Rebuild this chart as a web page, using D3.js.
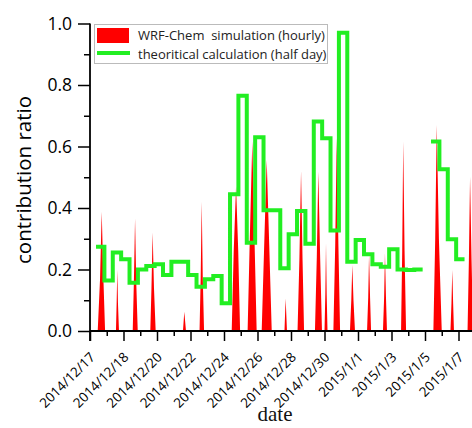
<!DOCTYPE html>
<html lang="en">

<head>
    <meta charset="UTF-8" />
    <title>Contribution ratio</title>
    <style>
        body { margin: 0; background: #fff; }
        svg { display: block; font-family: "Open Sans", sans-serif; }
        .legend text { white-space: pre; }
    </style>
</head>

<body>
    <svg id="chart"></svg>

    <script src="https://d3js.org/d3.v7.min.js"></script>
    <script>
        // x values are days since 2014/12/17 00:00
        const tickDays = [0, 2, 4, 6, 8, 10, 12, 14, 16, 18, 20, 22];
        const tickLabels = ['2014/12/17', '2014/12/18', '2014/12/20', '2014/12/22', '2014/12/24', '2014/12/26',
            '2014/12/28', '2014/12/30', '2015/1/1', '2015/1/3', '2015/1/5', '2015/1/7'];
        const yTicks = [0, 0.2, 0.4, 0.6, 0.8, 1.0];

        const simDays = [
            0.46, 0.60, 0.70, 0.80, 0.90,
            1.55, 1.59, 1.63, 1.67, 1.73,
            2.55, 2.62, 2.69, 2.76, 2.85,
            3.60, 3.67, 3.74, 3.82, 3.92,
            5.55, 5.63, 5.73,
            6.54, 6.61, 6.67, 6.73, 6.81,
            8.46, 8.58, 8.72, 8.85, 8.96,
            9.41, 9.54, 9.69, 9.82, 9.95,
            10.25, 10.40, 10.55, 10.70, 10.85,
            11.61, 11.68, 11.76,
            12.39, 12.50, 12.60, 12.69, 12.78,
            13.43, 13.54, 13.63, 13.74, 13.85,
            14.00, 14.05, 14.09, 14.13, 14.18,
            14.53, 14.64, 14.73, 14.83, 14.93,
            15.52, 15.60, 15.66, 15.73, 15.82,
            16.54, 16.61, 16.66, 16.72, 16.78,
            17.49, 17.56, 17.61, 17.67, 17.73,
            18.57, 18.64, 18.70, 18.78, 18.87,
            20.50, 20.61, 20.70, 20.83, 21.00,
            21.52, 21.58, 21.63, 21.68, 21.73,
            22.54, 22.62, 22.69, 22.78, 22.87
        ];
        const simValues = [
            0, 0.17, 0.388, 0.17, 0,
            0, 0.09, 0.198, 0.09, 0,
            0, 0.16, 0.366, 0.16, 0,
            0, 0.14, 0.32, 0.14, 0,
            0, 0.063, 0,
            0, 0.18, 0.42, 0.18, 0,
            0, 0.26, 0.47, 0.26, 0,
            0, 0.30, 0.616, 0.30, 0,
            0, 0.28, 0.556, 0.28, 0,
            0, 0.106, 0,
            0, 0.23, 0.52, 0.23, 0,
            0, 0.24, 0.518, 0.24, 0,
            0, 0.12, 0.285, 0.12, 0,
            0, 0.28, 0.627, 0.28, 0,
            0, 0.10, 0.215, 0.10, 0,
            0, 0.11, 0.25, 0.11, 0,
            0, 0.11, 0.253, 0.11, 0,
            0, 0.26, 0.616, 0.26, 0,
            0, 0.30, 0.67, 0.30, 0,
            0, 0.09, 0.198, 0.09, 0,
            0, 0.23, 0.502, 0.23, 0
        ];

        // theoritical calculation (half day), one value per 12 h period
        const calcStart = 0.36;
        const calcValues = [
            0.274, 0.164, 0.255, 0.233, 0.157, 0.200, 0.211, 0.217, 0.182, 0.225,
            0.225, 0.182, 0.144, 0.168, 0.179, 0.090, 0.445, 0.765, 0.287, 0.630,
            0.393, 0.393, 0.204, 0.315, 0.390, 0.284, 0.681, 0.627, 0.327, 0.970,
            0.225, 0.296, 0.250, 0.217, 0.209, 0.266, 0.200, 0.198, 0.200, null,
            0.616, 0.526, 0.298, 0.233
        ];

        const width = 472, height = 428;
        const svg = d3.select('#chart').attr('width', width).attr('height', height);

        const x = d3.scaleLinear().domain([0, 22.806]).range([90, 472]);
        const y = d3.scaleLinear().domain([0, 1]).range([331, 23.5]);

        const red = '#ff0000', green = '#22ee22';

        // hourly simulation as filled area
        const sim = simDays.map((d, i) => ({ t: d, v: simValues[i] }));
        svg.append('path')
            .datum(sim)
            .attr('fill', red)
            .attr('d', d3.area().x(d => x(d.t)).y0(y(0)).y1(d => y(d.v)));

        // half-day steps
        const steps = [];
        calcValues.forEach((v, k) => {
            steps.push({ t: calcStart + k * 0.5, v: v });
            steps.push({ t: calcStart + (k + 1) * 0.5, v: v });
        });
        svg.append('path')
            .datum(steps)
            .attr('fill', 'none')
            .attr('stroke', green)
            .attr('stroke-width', 4)
            .attr('stroke-linejoin', 'miter')
            .attr('d', d3.line().defined(d => d.v != null).x(d => x(d.t)).y(d => y(d.v)));

        // axes
        const xAxis = svg.append('g').attr('transform', `translate(0,${y(0)})`)
            .call(d3.axisBottom(x).tickValues(d3.range(0, 23, 1)).tickSize(5).tickFormat(''));
        xAxis.selectAll('.tick line')
            .attr('y2', d => d % 2 === 0 ? 10 : 5)
            .attr('stroke-width', 1.5);
        xAxis.select('.domain').attr('stroke-width', 1.8).attr('d', `M${x(0)},0H${width}`);

        svg.append('g').selectAll('text')
            .data(tickDays)
            .join('text')
            .attr('transform', d => `translate(${x(d) + 6},${y(0) + 27}) rotate(-45)`)
            .attr('text-anchor', 'end')
            .attr('font-size', 13.5)
            .attr('fill', '#000')
            .text((d, i) => tickLabels[i]);

        const yAxis = svg.append('g').attr('transform', `translate(${x(0)},0)`)
            .call(d3.axisLeft(y).tickValues(d3.range(0, 1.01, 0.1)).tickSize(6).tickFormat(''));
        yAxis.selectAll('.tick line')
            .attr('x2', (d, i) => i % 2 === 0 ? -12 : -6)
            .attr('stroke-width', 1.5);
        yAxis.select('.domain').attr('stroke-width', 1.8).attr('d', `M0,${y(1)}V${y(0) + 10}`);

        svg.append('g').selectAll('text')
            .data(yTicks)
            .join('text')
            .attr('x', 72)
            .attr('y', d => y(d) + 6)
            .attr('text-anchor', 'end')
            .attr('font-size', 17.5)
            .attr('fill', '#000')
            .text(d => d3.format('.1f')(d));

        svg.append('text')
            .attr('transform', 'translate(31,180) rotate(-90)')
            .attr('text-anchor', 'middle')
            .attr('font-size', 20.5)
            .attr('fill', '#000')
            .text('contribution ratio');

        svg.append('text')
            .attr('x', 275)
            .attr('y', 421)
            .attr('text-anchor', 'middle')
            .attr('font-family', '"Liberation Serif", serif')
            .attr('font-size', 21)
            .attr('fill', '#111')
            .text('date');

        // legend
        const legend = svg.append('g').attr('class', 'legend');
        legend.append('rect')
            .attr('x', 94.5).attr('y', 24.5).attr('width', 233).attr('height', 39)
            .attr('fill', '#fff').attr('stroke', '#bbb').attr('stroke-width', 1);
        legend.append('rect')
            .attr('x', 97).attr('y', 28).attr('width', 32).attr('height', 15)
            .attr('fill', red);
        legend.append('line')
            .attr('x1', 97).attr('x2', 130).attr('y1', 53).attr('y2', 53)
            .attr('stroke', green).attr('stroke-width', 4);
        legend.append('text')
            .attr('x', 138).attr('y', 40)
            .attr('font-size', 13).attr('fill', '#222')
            .text('WRF-Chem  simulation (hourly)');
        legend.append('text')
            .attr('x', 138).attr('y', 59)
            .attr('font-size', 13).attr('fill', '#222')
            .text('theoritical calculation (half day)');
    </script>
</body>

</html>
